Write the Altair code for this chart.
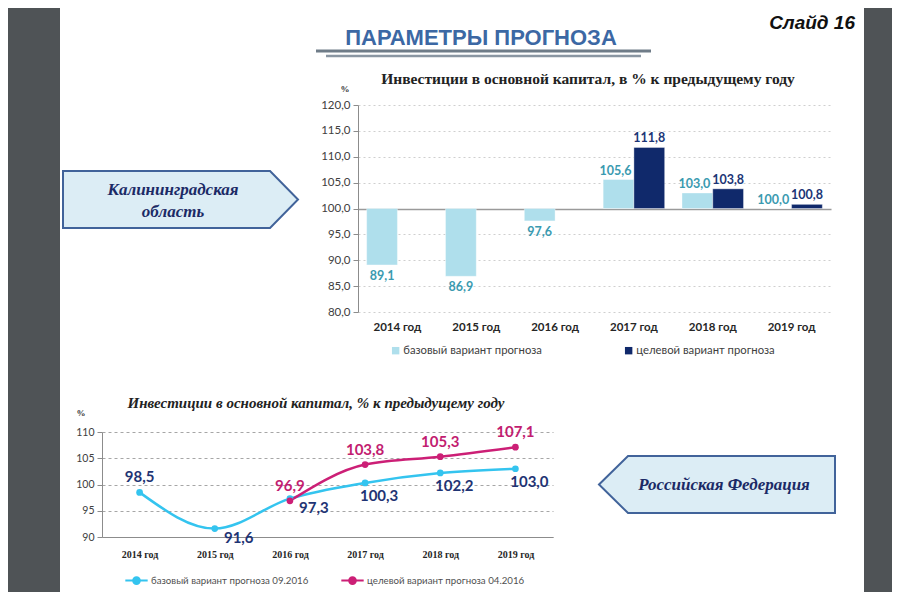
import altair as alt
import pandas as pd

# ---------------- data ----------------
years = ["2014 год", "2015 год", "2016 год", "2017 год", "2018 год", "2019 год"]

# Калининградская область (bars)
kal_series = ["базовый вариант прогноза", "целевой вариант прогноза"]
kal_base = [89.1, 86.9, 97.6, 105.6, 103.0, 100.0]
kal_target_years = ["2017 год", "2018 год", "2019 год"]
kal_target = [111.8, 103.8, 100.8]

# Российская Федерация (lines)
rf_series = ["базовый вариант прогноза 09.2016", "целевой вариант  прогноза 04.2016"]
rf_base = [98.5, 91.6, 97.3, 100.3, 102.2, 103.0]
rf_target_years = ["2016 год", "2017 год", "2018 год", "2019 год"]
rf_target = [96.9, 103.8, 105.3, 107.1]

kal = pd.DataFrame(
    [{"year": y, "series": kal_series[0], "value": v} for y, v in zip(years, kal_base)]
    + [{"year": y, "series": kal_series[1], "value": v} for y, v in zip(kal_target_years, kal_target)]
)
rf = pd.DataFrame(
    [{"year": y, "series": rf_series[0], "value": v} for y, v in zip(years, rf_base)]
    + [{"year": y, "series": rf_series[1], "value": v} for y, v in zip(rf_target_years, rf_target)]
)
one = pd.DataFrame({"k": [0]})

# ---------------- layout helpers ----------------
W, H = 884, 584


def px(v):
    return v - 8


LBL = "replace(format(datum.value, '.1f'), '.', ',')"

LIGHT, DARK = "#afdfec", "#10296b"
LIGHT_TXT, DARK_TXT = "#3a9ab0", "#1b3576"
CYAN, PINK = "#34c4ef", "#cc1f76"
NAVY_TXT, PINK_TXT = "#1f3474", "#c21d70"
SIDE = "#4f5356"

# ---------------- top chart (bars) ----------------
tx = alt.X(
    "year:N", title=None,
    scale=alt.Scale(domain=years, range=[px(358), px(831)], paddingInner=0.22, paddingOuter=0.11),
    axis=alt.Axis(orient="bottom", offset=-(H - px(312)), domain=False, ticks=False,
                  labelPadding=9, labelAngle=0, labelFont="Lato", labelFontWeight="bold",
                  labelFontSize=11.5, labelColor="#262626"),
)
ty = alt.Y(
    "value:Q", title=None,
    scale=alt.Scale(domain=[80, 120], range=[px(312), px(105)], nice=False, zero=False),
    axis=alt.Axis(orient="left", offset=-px(358), values=[80, 85, 90, 95, 100, 105, 110, 115, 120],
                  labelExpr=LBL, labelFont="Lato", labelFontSize=11.5, labelColor="#404040",
                  labelPadding=3, tickSize=5, tickColor="#8c8c8c", domainColor="#8c8c8c",
                  grid=True,
                  gridDash=alt.condition("datum.value === 100", alt.value([]), alt.value([2, 3])),
                  gridColor=alt.condition("datum.value === 100", alt.value("#9a9a9a"), alt.value("#cfcfcf")),
                  gridWidth=alt.condition("datum.value === 100", alt.value(1.5), alt.value(1))),
)
txo = alt.XOffset("series:N", scale=alt.Scale(domain=kal_series, paddingInner=0, paddingOuter=0))

bars = alt.Chart(kal).mark_bar(stroke="white", strokeWidth=0.6, strokeOpacity=0.6).encode(
    x=tx, xOffset=txo, y=ty, y2=alt.datum(100),
    color=alt.Color(
        "series:N", scale=alt.Scale(domain=kal_series, range=[LIGHT, DARK]),
        legend=alt.Legend(orient="none", legendX=px(390), legendY=px(345), direction="horizontal",
                          title=None, symbolType="square", symbolSize=55, symbolStrokeWidth=0,
                          labelFont="Lato", labelFontSize=11.3, labelColor="#404040", labelLimit=300,
                          labelOffset=2, columnPadding=81, padding=0),
    ),
)
txt_style = dict(font="Lato", fontWeight="bold", fontSize=12.5)
light_above = alt.Chart(kal).transform_filter(
    f"datum.series === '{kal_series[0]}' && datum.value >= 100"
).transform_calculate(lbl=LBL).mark_text(baseline="bottom", dy=-2, dx=-3, color=LIGHT_TXT, **txt_style).encode(
    x=tx, xOffset=txo, y=ty, text="lbl:N")
light_below = alt.Chart(kal).transform_filter(
    f"datum.series === '{kal_series[0]}' && datum.value < 100"
).transform_calculate(lbl=LBL).mark_text(baseline="top", dy=5, color=LIGHT_TXT, **txt_style).encode(
    x=tx, xOffset=txo, y=ty, text="lbl:N")
dark_above = alt.Chart(kal).transform_filter(
    f"datum.series === '{kal_series[1]}'"
).transform_calculate(lbl=LBL).mark_text(baseline="bottom", dy=-2, color=DARK_TXT, **txt_style).encode(
    x=tx, xOffset=txo, y=ty, text="lbl:N")

top = alt.layer(bars, light_above, light_below, dark_above)

# ---------------- bottom chart (lines) ----------------
bx = alt.X(
    "year:N", title=None,
    scale=alt.Scale(domain=years, range=[px(102), px(553)]),
    axis=alt.Axis(orient="bottom", offset=-(H - px(537)), domainColor="#8c8c8c", ticks=False,
                  labelPadding=12, labelAngle=0, labelFont="Liberation Serif", labelFontWeight="bold",
                  labelFontSize=10, labelColor="#262626"),
)
by = alt.Y(
    "value:Q", title=None,
    scale=alt.Scale(domain=[90, 110], range=[px(537), px(432)], nice=False, zero=False),
    axis=alt.Axis(orient="left", offset=-px(102), values=[90, 95, 100, 105, 110],
                  labelFont="Lato", labelFontSize=10.5, labelColor="#404040", labelPadding=3,
                  tickSize=5, tickColor="#8c8c8c", domainColor="#8c8c8c",
                  grid=True, gridDash=[3, 3], gridColor="#a6a6a6"),
)
leg_b = alt.Legend(orient="none", legendX=px(124), legendY=px(568), direction="horizontal",
                   title=None,
                   symbolType="M-1,0L-0.3,0M0.3,0L1,0M0.3,0A0.3,0.3,0,1,1,-0.3,0A0.3,0.3,0,1,1,0.3,0",
                   symbolSize=500, symbolStrokeWidth=2,
                   labelFont="Lato", labelFontSize=9.7, labelColor="#505050", labelLimit=300,
                   labelOffset=2, columnPadding=28, padding=0)
bcol = alt.Color("series:N", scale=alt.Scale(domain=rf_series, range=[CYAN, PINK]), legend=leg_b)

lines = alt.Chart(rf).mark_line(interpolate="monotone", strokeWidth=2.5).encode(x=bx, y=by, color=bcol)
pts = alt.Chart(rf).mark_point(filled=True, size=45, opacity=1).encode(x=bx, y=by, color=bcol)

big = dict(font="Lato", fontWeight="bold", fontSize=15)


def rf_text(filt, color, **kw):
    return alt.Chart(rf).transform_filter(filt).transform_calculate(lbl=LBL).mark_text(
        color=color, baseline="middle", **big, **kw).encode(x=bx, y=by, text="lbl:N")


b0 = f"datum.series === '{rf_series[0]}'"
t_2014 = rf_text(f"{b0} && datum.year === '2014 год'", NAVY_TXT, dy=-15)
t_mid = rf_text(f"{b0} && (datum.year === '2015 год' || datum.year === '2016 год')", NAVY_TXT, dx=24, dy=9)
t_late = rf_text(f"{b0} && (datum.year === '2017 год' || datum.year === '2018 год' || datum.year === '2019 год')",
                 NAVY_TXT, dx=14, dy=13)
t_pink = rf_text(f"datum.series === '{rf_series[1]}'", PINK_TXT, dy=-15)

bottom = alt.layer(lines, pts, t_2014, t_mid, t_late, t_pink)

# ---------------- slide decorations ----------------
side_l = alt.Chart(one).mark_rect(color=SIDE).encode(
    x=alt.value(0), x2=alt.value(px(60)), y=alt.value(0), y2=alt.value(H))
side_r = alt.Chart(one).mark_rect(color=SIDE).encode(
    x=alt.value(px(864)), x2=alt.value(W), y=alt.value(0), y2=alt.value(H))

orn1 = alt.Chart(one).mark_rule(color="#6f7c88", strokeWidth=3).encode(
    x=alt.value(px(316)), x2=alt.value(px(651)), y=alt.value(px(51)))
orn2 = alt.Chart(one).mark_rule(color="#8a96a2", strokeWidth=2.5).encode(
    x=alt.value(px(326)), x2=alt.value(px(641)), y=alt.value(px(56)))


def label(text, x, y, **kw):
    return alt.Chart(one).mark_text(text=text, **kw).encode(x=alt.value(px(x)), y=alt.value(px(y)))


main_title = label("ПАРАМЕТРЫ ПРОГНОЗА", 481, 38, font="Liberation Sans", fontWeight="bold",
                   fontSize=22, color="#3c68a4", align="center", baseline="middle")
slide_no = label("Слайд 16", 855, 23, font="Liberation Sans", fontWeight="bold", fontStyle="italic",
                 fontSize=19, color="#111111", align="right", baseline="middle")
top_title = label("Инвестиции в основной капитал, в % к предыдущему году", 588, 79,
                  font="Liberation Serif", fontWeight="bold", fontSize=15.5, color="#222222",
                  align="center", baseline="middle")
top_pct = label("%", 345, 89, font="Liberation Serif", fontWeight="bold", fontSize=9,
                color="#333333", align="center", baseline="middle")
bot_title = label("Инвестиции в основной капитал, %  к предыдущему году", 316, 403,
                  font="Liberation Serif", fontWeight="bold", fontStyle="italic", fontSize=15,
                  color="#222222", align="center", baseline="middle")
bot_pct = label("%", 81, 413, font="Liberation Serif", fontWeight="bold", fontSize=9,
                color="#333333", align="center", baseline="middle")

box_style = dict(filled=True, fill="#dcedf5", stroke="#41639a", strokeWidth=2, opacity=1,
                 fillOpacity=1, strokeOpacity=1)
kal_box = alt.Chart(one).mark_point(
    shape="M-1,-0.243L0.762,-0.243L1,0L0.762,0.243L-1,0.243Z", size=235 ** 2, **box_style
).encode(x=alt.value(px(180.5)), y=alt.value(px(199.5)))
rf_box = alt.Chart(one).mark_point(
    shape="M-1,0L-0.754,-0.242L1,-0.242L1,0.242L-0.754,0.242Z", size=236 ** 2, **box_style
).encode(x=alt.value(px(717)), y=alt.value(px(484.5)))

callout = dict(font="Liberation Serif", fontWeight="bold", fontStyle="italic", fontSize=17,
               color="#1b2a66", align="center", baseline="middle")
kal_text = label(["Калининградская", "область"], 173, 190, lineHeight=22, **callout)
rf_text_lbl = label("Российская Федерация", 724, 485, **callout)

chart = alt.layer(
    side_l, side_r, orn1, orn2, main_title, slide_no, top_title, top_pct, bot_title, bot_pct,
    kal_box, rf_box, kal_text, rf_text_lbl, top, bottom,
).resolve_scale(
    x="independent", y="independent", color="independent"
).properties(
    width=W, height=H, padding=0, background="white",
    autosize=alt.AutoSizeParams(type="none"),
).configure_view(stroke=None)

chart.save("out.html", embed_options={"renderer": "svg", "actions": False})
